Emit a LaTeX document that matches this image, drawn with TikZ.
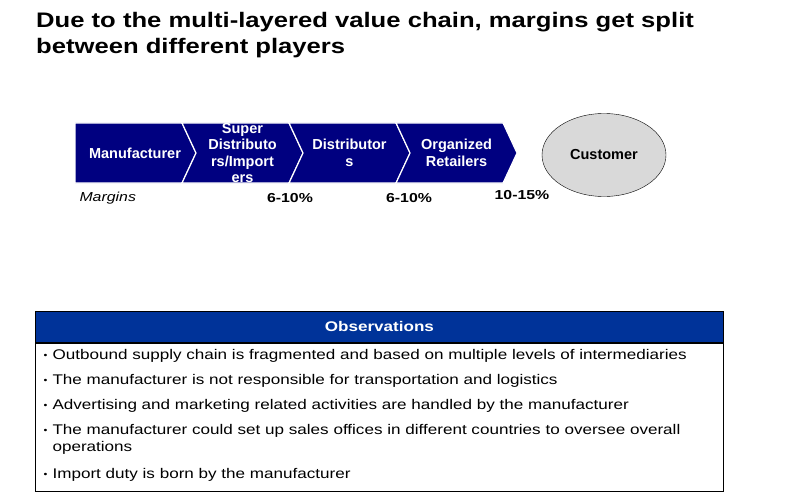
\documentclass[tikz,border=0pt]{standalone}
\usepackage{fontspec}
\setmainfont{Liberation Sans}
\newfontfamily\widefont[FakeStretch=1.22]{Liberation Sans}
\usetikzlibrary{positioning}
\usetikzlibrary{shapes.geometric,shapes.symbols}
\definecolor{chainblue}{RGB}{0,0,128}
\definecolor{obsblue}{RGB}{0,51,153}
\definecolor{custgray}{RGB}{217,217,217}
\newcommand{\obsbul}{\makebox[9pt][l]{\raisebox{1pt}{\fontsize{9}{9}\selectfont\textbullet}}}

\begin{document}
\begin{tikzpicture}[
  x=1pt, y=1pt,
  node distance=0pt and 0pt,
  chev/.style={signal, signal to=east, signal from=west, signal pointer angle=130,
    fill=chainblue, draw=white, line width=1.2pt, minimum width=121pt,
    minimum height=60pt, inner sep=0pt, outer sep=0pt},
  chevtext/.style={text=white, font=\fontsize{14.5}{16.5}\selectfont\bfseries, align=center},
  marg/.style={font=\widefont\fontsize{13}{15}\selectfont\bfseries},
  obsline/.style={anchor=west, align=left, font=\widefont\fontsize{14}{17}\selectfont}
]
\useasboundingbox (0,0) rectangle (800,-500);

% title
\node[anchor=north west, align=left, inner sep=0pt,
  font=\widefont\fontsize{21}{26}\selectfont\bfseries] (title) at (36,-12)
  {Due to the multi-layered value chain, margins get split\\between different players};

% value chain
\node[chev, signal from=nowhere, anchor=west] (mfr) at (75,-153) {};
\node[chev, right=of mfr] (sup) {};
\node[chev, right=of sup] (dist) {};
\node[chev, right=of dist] (ret) {};

\node[chevtext] (mfr-t) at ([xshift=6.5pt]mfr.center) {Manufacturer};
\node[chevtext] (sup-t) at (sup) {Super\\Distributo\\rs/Import\\ers};
\node[chevtext] (dist-t) at (dist) {Distributor\\s};
\node[chevtext] (ret-t) at (ret) {Organized\\Retailers};

\node[ellipse, draw, fill=custgray, minimum width=124pt, minimum height=83pt,
  font=\fontsize{14.5}{16}\selectfont\bfseries] (cust) at (604,-155) {Customer};

% margins
\node[anchor=west, font=\widefont\fontsize{13}{15}\selectfont\itshape] (margins) at (76,-198) {Margins};
\node[marg] (m1) at (290,-198) {6-10\%};
\node[marg] (m2) at (409,-198) {6-10\%};
\node[marg] (m3) at (522,-195) {10-15\%};

% observations
\node[draw, line width=0.8pt, fill=obsblue, minimum width=688pt, minimum height=31pt,
  anchor=north west, inner sep=0pt, text=white,
  font=\widefont\fontsize{14}{17}\selectfont\bfseries] (obshead) at (35,-311) {Observations};
\node[draw, line width=0.8pt, minimum width=688pt, minimum height=148pt,
  anchor=north, inner sep=0pt] (obsbody) at (obshead.south) {};

\foreach \y/\t [count=\i] in {
  356/{Outbound supply chain is fragmented and based on multiple levels of intermediaries},
  381/{The manufacturer is not responsible for transportation and logistics},
  406/{Advertising and marketing related activities are handled by the manufacturer},
  439.5/{The manufacturer could set up sales offices in different countries to oversee overall\\\hspace*{9pt}operations},
  475/{Import duty is born by the manufacturer}}
  \node[obsline] (obs\i) at (40,-\y) {\obsbul\t};

\end{tikzpicture}
\end{document}
